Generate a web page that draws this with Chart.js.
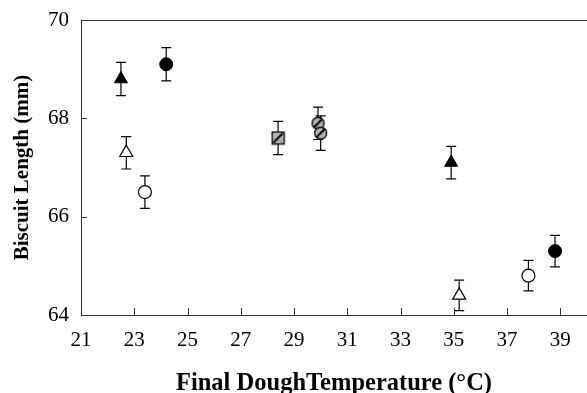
<!DOCTYPE html>
<html>
<head>
<meta charset="utf-8">
<script src="https://cdn.jsdelivr.net/npm/chart.js@4/dist/chart.umd.min.js"></script>
<style>
  html, body { margin: 0; padding: 0; background: #fff; }
  #wrap { width: 587px; height: 393px; position: relative; }
</style>
</head>
<body>
<div id="wrap"><canvas id="chart"></canvas></div>
<script>
// Axis ticks
const xTicks = [21, 23, 25, 27, 29, 31, 33, 35, 37, 39];
const yTicks = [64, 66, 68, 70];

// Final dough temperature (°C), biscuit length (mm) and standard error per series
const filledTriTemp = [22.5, 34.9];
const filledTriLen  = [68.8, 67.1];
const filledTriErr  = [0.34, 0.33];

const openTriTemp = [22.7, 35.2];
const openTriLen  = [67.3, 64.4];
const openTriErr  = [0.33, 0.31];

const filledCircTemp = [24.2, 38.8];
const filledCircLen  = [69.1, 65.3];
const filledCircErr  = [0.34, 0.32];

const openCircTemp = [23.4, 37.8];
const openCircLen  = [66.5, 64.8];
const openCircErr  = [0.33, 0.31];

const hatchSqTemp = [28.4];
const hatchSqLen  = [67.6];
const hatchSqErr  = [0.34];

const hatchCircTemp = [29.9, 30.0];
const hatchCircLen  = [67.9, 67.7];
const hatchCircErr  = [0.33, 0.35];

function toPoints(xs, ys) {
    return xs.map((x, i) => ({ x: x, y: ys[i] }));
}

// Small canvases used as point styles for the hatched markers
function hatchedMarker(shape) {
    const c = document.createElement('canvas');
    c.width = 15; c.height = 15;
    const g = c.getContext('2d');
    g.fillStyle = '#b4b4b4';
    g.strokeStyle = '#000';
    g.lineWidth = 1.3;
    if (shape === 'square') {
        g.fillRect(1.5, 1.5, 12, 12);
        g.strokeRect(1.5, 1.5, 12, 12);
        g.beginPath();
        g.moveTo(3, 12); g.lineTo(12, 3);
        g.lineWidth = 2;
        g.stroke();
    } else {
        g.beginPath();
        g.arc(7.5, 7.5, 6, 0, Math.PI * 2);
        g.fill();
        g.stroke();
        g.beginPath();
        g.moveTo(3.5, 11.5); g.lineTo(11.5, 3.5);
        g.lineWidth = 2;
        g.stroke();
    }
    return c;
}

// Error bars, inward ticks and the top frame line
const errorBarPlugin = {
    id: 'errorBars',
    beforeDatasetsDraw(chart) {
        const ctx = chart.ctx;
        const xs = chart.scales.x, ys = chart.scales.y;
        ctx.save();
        ctx.strokeStyle = '#000';
        ctx.lineWidth = 1.2;
        chart.data.datasets.forEach(ds => {
            ds.data.forEach((p, i) => {
                const e = ds.errors[i];
                const px = xs.getPixelForValue(p.x);
                const top = ys.getPixelForValue(p.y + e);
                const bot = ys.getPixelForValue(p.y - e);
                ctx.beginPath();
                ctx.moveTo(px, top); ctx.lineTo(px, bot);
                ctx.moveTo(px - 5, top); ctx.lineTo(px + 5, top);
                ctx.moveTo(px - 5, bot); ctx.lineTo(px + 5, bot);
                ctx.stroke();
            });
        });
        ctx.restore();
    },
    afterDraw(chart) {
        const ctx = chart.ctx;
        const xs = chart.scales.x, ys = chart.scales.y;
        const area = chart.chartArea;
        ctx.save();
        ctx.strokeStyle = '#333';
        ctx.lineWidth = 1;
        ctx.beginPath();
        ctx.moveTo(area.left, area.top + 0.5);
        ctx.lineTo(area.right, area.top + 0.5);
        xTicks.forEach(t => {
            const px = Math.round(xs.getPixelForValue(t)) + 0.5;
            ctx.moveTo(px, area.bottom);
            ctx.lineTo(px, area.bottom - 7);
        });
        yTicks.forEach(t => {
            const py = Math.round(ys.getPixelForValue(t)) + 0.5;
            ctx.moveTo(area.left, py);
            ctx.lineTo(area.left + 6, py);
        });
        ctx.stroke();
        ctx.restore();
    }
};

const serif = "'Liberation Serif', 'Times New Roman', serif";

new Chart(document.getElementById('chart'), {
    type: 'scatter',
    data: {
        datasets: [
            {
                data: toPoints(filledTriTemp, filledTriLen), errors: filledTriErr,
                pointStyle: 'triangle', pointRadius: 7.5,
                backgroundColor: '#000', borderColor: '#000', borderWidth: 1
            },
            {
                data: toPoints(openTriTemp, openTriLen), errors: openTriErr,
                pointStyle: 'triangle', pointRadius: 7.5,
                backgroundColor: '#fff', borderColor: '#000', borderWidth: 1.2
            },
            {
                data: toPoints(filledCircTemp, filledCircLen), errors: filledCircErr,
                pointStyle: 'circle', pointRadius: 6.5,
                backgroundColor: '#000', borderColor: '#000', borderWidth: 1
            },
            {
                data: toPoints(openCircTemp, openCircLen), errors: openCircErr,
                pointStyle: 'circle', pointRadius: 6.5,
                backgroundColor: '#fff', borderColor: '#000', borderWidth: 1.2
            },
            {
                data: toPoints(hatchSqTemp, hatchSqLen), errors: hatchSqErr,
                pointStyle: hatchedMarker('square')
            },
            {
                data: toPoints(hatchCircTemp, hatchCircLen), errors: hatchCircErr,
                pointStyle: hatchedMarker('circle')
            }
        ]
    },
    options: {
        responsive: true,
        maintainAspectRatio: false,
        animation: false,
        layout: { autoPadding: false, padding: { top: 20, right: 0, left: 0, bottom: 0 } },
        plugins: {
            legend: { display: false },
            tooltip: { enabled: false }
        },
        scales: {
            x: {
                type: 'linear',
                min: 21,
                max: 40,
                afterBuildTicks: scale => { scale.ticks = xTicks.map(v => ({ value: v })); },
                afterFit: scale => {
                    scale.height = 78;
                    scale.paddingLeft = 0;
                    scale.paddingRight = 0;
                },
                grid: { display: false, drawTicks: false },
                border: { display: true, color: '#333', width: 1 },
                ticks: {
                    color: '#000',
                    padding: 13,
                    maxRotation: 0,
                    font: { family: serif, size: 21 }
                },
                title: {
                    display: true,
                    text: 'Final DoughTemperature (°C)',
                    color: '#000',
                    padding: { top: 0, bottom: -5 },
                    font: { family: serif, size: 24.5, weight: 'bold' }
                }
            },
            y: {
                type: 'linear',
                min: 64,
                max: 70,
                afterBuildTicks: scale => { scale.ticks = yTicks.map(v => ({ value: v })); },
                afterFit: scale => {
                    scale.width = 81;
                    scale.paddingTop = 0;
                    scale.paddingBottom = 0;
                },
                grid: { display: false, drawTicks: false },
                border: { display: true, color: '#333', width: 1 },
                ticks: {
                    color: '#000',
                    padding: 12,
                    font: { family: serif, size: 21 }
                },
                title: {
                    display: true,
                    text: 'Biscuit Length (mm)',
                    color: '#000',
                    padding: { top: 10, bottom: 1 },
                    font: { family: serif, size: 21, weight: 'bold' }
                }
            }
        }
    },
    plugins: [errorBarPlugin]
});
</script>
</body>
</html>
